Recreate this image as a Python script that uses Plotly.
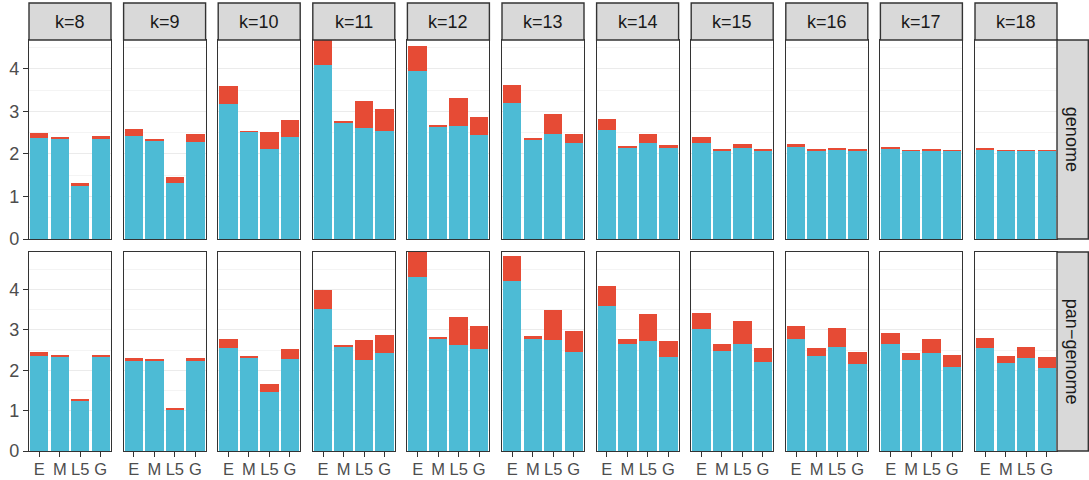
import plotly.graph_objects as go

# ---------------- data ----------------
ks = [8, 9, 10, 11, 12, 13, 14, 15, 16, 17, 18]
cats = ["E", "M", "L5", "G"]
row_labels = ["genome", "pan\u2212genome"]
y_ticks = [0, 1, 2, 3, 4]

# genome row: blue (base) height and total (base + red) height per k
genome_base = {
    8: [2.38, 2.35, 1.25, 2.35],
    9: [2.42, 2.31, 1.32, 2.28],
    10: [3.18, 2.52, 2.12, 2.40],
    11: [4.09, 2.75, 2.61, 2.54],
    12: [3.95, 2.64, 2.66, 2.45],
    13: [3.20, 2.33, 2.47, 2.26],
    14: [2.56, 2.16, 2.26, 2.14],
    15: [2.26, 2.09, 2.14, 2.09],
    16: [2.16, 2.09, 2.09, 2.09],
    17: [2.12, 2.07, 2.09, 2.07],
    18: [2.09, 2.07, 2.07, 2.07],
}
genome_total = {
    8: [2.49, 2.40, 1.32, 2.42],
    9: [2.59, 2.33, 1.46, 2.47],
    10: [3.60, 2.54, 2.52, 2.80],
    11: [4.68, 2.78, 3.25, 3.06],
    12: [4.54, 2.66, 3.32, 2.87],
    13: [3.62, 2.38, 2.94, 2.47],
    14: [2.82, 2.19, 2.47, 2.21],
    15: [2.40, 2.12, 2.24, 2.12],
    16: [2.24, 2.12, 2.14, 2.12],
    17: [2.16, 2.09, 2.12, 2.09],
    18: [2.14, 2.09, 2.09, 2.09],
}
pan_base = {
    8: [2.36, 2.33, 1.24, 2.33],
    9: [2.23, 2.23, 1.02, 2.23],
    10: [2.56, 2.31, 1.46, 2.28],
    11: [3.52, 2.58, 2.26, 2.43],
    12: [4.32, 2.78, 2.63, 2.53],
    13: [4.22, 2.78, 2.75, 2.46],
    14: [3.60, 2.66, 2.73, 2.33],
    15: [3.03, 2.48, 2.66, 2.21],
    16: [2.78, 2.36, 2.58, 2.16],
    17: [2.66, 2.26, 2.43, 2.08],
    18: [2.56, 2.18, 2.31, 2.06],
}
pan_total = {
    8: [2.46, 2.38, 1.29, 2.38],
    9: [2.31, 2.26, 1.07, 2.31],
    10: [2.78, 2.33, 1.66, 2.53],
    11: [4.00, 2.61, 2.75, 2.88],
    12: [4.93, 2.80, 3.33, 3.10],
    13: [4.84, 2.85, 3.50, 2.98],
    14: [4.09, 2.78, 3.40, 2.73],
    15: [3.42, 2.66, 3.23, 2.56],
    16: [3.10, 2.56, 3.05, 2.46],
    17: [2.93, 2.43, 2.78, 2.38],
    18: [2.80, 2.36, 2.58, 2.33],
}

# ---------------- styling ----------------
W, H = 1089, 480
BLUE = "#4DBBD5"
RED = "#E64B35"
BORDER = "#333333"
STRIP_BG = "#D9D9D9"
FONT = "Liberation Sans, Arial, sans-serif"
TICK_COL = "#4D4D4D"
FS = 18
FS_X = 16.5

panel_left0 = 29.0
pitch = 94.6
panel_w = 82.0
row_tops = [40.0, 252.0]
row_bots = [239.0, 451.0]
strip_top = 3.0
rstrip_x0, rstrip_x1 = 1057.0, 1088.3


def fx(px):
    return px / W


def fy(py):
    return 1 - py / H


fig = go.Figure()
layout = dict(
    width=W, height=H,
    margin=dict(l=0, r=0, t=0, b=0),
    paper_bgcolor="white", plot_bgcolor="white",
    barmode="stack", bargap=0.1,
    showlegend=False,
    font=dict(family=FONT, size=FS, color=TICK_COL),
)
shapes = []
annotations = []

rows_data = [(genome_base, genome_total), (pan_base, pan_total)]

n = 0
for r, (base_d, total_d) in enumerate(rows_data):
    ymax = max(max(v) for v in total_d.values())
    for c, k in enumerate(ks):
        n += 1
        xa = "x" if n == 1 else f"x{n}"
        ya = "y" if n == 1 else f"y{n}"
        base = base_d[k]
        total = total_d[k]
        red = [t - b for t, b in zip(total, base)]
        fig.add_trace(go.Bar(x=cats, y=base, marker=dict(color=BLUE, line=dict(width=0)),
                             xaxis=xa, yaxis=ya, hoverinfo="skip"))
        fig.add_trace(go.Bar(x=cats, y=red, base=base, marker=dict(color=RED, line=dict(width=0)),
                             xaxis=xa, yaxis=ya, hoverinfo="skip"))
        x0 = panel_left0 + c * pitch
        x1 = x0 + panel_w
        layout["xaxis" if n == 1 else f"xaxis{n}"] = dict(
            domain=[fx(x0), fx(x1)], anchor=ya, type="category",
            categoryorder="array", categoryarray=cats,
            tickmode="array", tickvals=cats, ticktext=cats, tickangle=0,
            range=[-0.5, 3.5], showgrid=False, zeroline=False,
            showline=True, mirror=True, linecolor=BORDER, linewidth=1.4,
            ticks="outside" if r == 1 else "", ticklen=5, tickwidth=1.3, tickcolor=BORDER,
            showticklabels=(r == 1), tickfont=dict(size=FS_X, color=TICK_COL, family=FONT),
            ticklabelstandoff=-2,
            automargin=False, fixedrange=True,
        )
        layout["yaxis" if n == 1 else f"yaxis{n}"] = dict(
            domain=[fy(row_bots[r]), fy(row_tops[r])], anchor=xa,
            range=[0, ymax], tickmode="array", tickvals=y_ticks,
            showgrid=True, gridcolor="#EBEBEB", gridwidth=1.1,
            minor=dict(tickmode="array", tickvals=[0.5, 1.5, 2.5, 3.5, 4.5],
                       showgrid=True, gridcolor="#F4F4F4", gridwidth=0.6, ticks=""),
            zeroline=False, showline=True, mirror=True, linecolor=BORDER, linewidth=1.4,
            ticks="outside" if c == 0 else "", ticklen=5, tickwidth=1.3, tickcolor=BORDER,
            showticklabels=(c == 0), tickfont=dict(size=FS, color=TICK_COL, family=FONT),
            automargin=False, fixedrange=True,
        )
        # top strips
        if r == 0:
            shapes.append(dict(type="rect", xref="paper", yref="paper",
                               x0=fx(x0), x1=fx(x1), y0=fy(row_tops[0]), y1=fy(strip_top),
                               fillcolor=STRIP_BG, line=dict(color=BORDER, width=1.4), layer="above"))
            annotations.append(dict(xref="paper", yref="paper", x=fx((x0 + x1) / 2),
                                    y=fy((strip_top + row_tops[0]) / 2), text=f"k={k}",
                                    showarrow=False, xanchor="center", yanchor="middle",
                                    font=dict(size=FS, color="#1A1A1A", family=FONT)))
    # right strip
    shapes.append(dict(type="rect", xref="paper", yref="paper",
                       x0=fx(rstrip_x0), x1=fx(rstrip_x1), y0=fy(row_bots[r]), y1=fy(row_tops[r]),
                       fillcolor=STRIP_BG, line=dict(color=BORDER, width=1.4), layer="above"))
    annotations.append(dict(xref="paper", yref="paper", x=fx((rstrip_x0 + rstrip_x1) / 2),
                            y=fy((row_tops[r] + row_bots[r]) / 2), text=row_labels[r],
                            textangle=90, showarrow=False, xanchor="center", yanchor="middle",
                            font=dict(size=FS, color="#1A1A1A", family=FONT)))

layout["shapes"] = shapes
layout["annotations"] = annotations
fig.update_layout(**layout)
fig.write_html("out.html", config={"displayModeBar": False},
               post_script="document.body.style.margin='0px';document.body.style.padding='0px';")
